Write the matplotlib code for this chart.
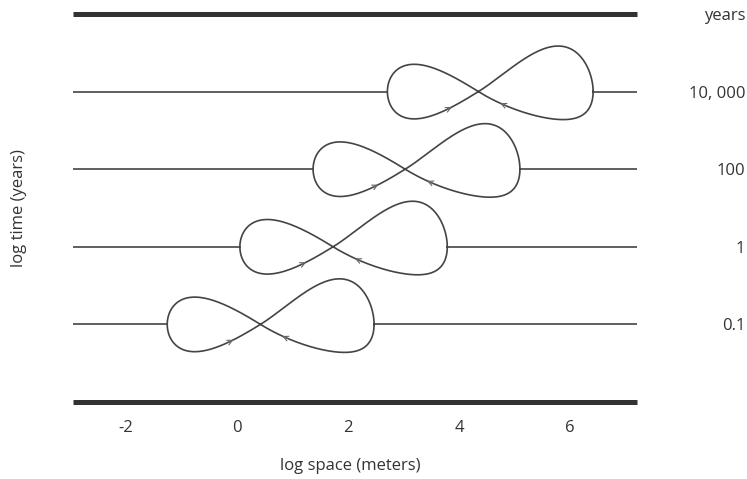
import numpy as np
import matplotlib
matplotlib.use("Agg")
import matplotlib.pyplot as plt

plt.rcParams["font.family"] = ["Open Sans", "DejaVu Sans"]

# time levels (right hand labels) and loop geometry in log-space units
level_labels = ["0.1", "1", "100", "10, 000"]
level_y = [0, 1, 2, 3]
loop_left = [-1.26, 0.05, 1.37, 2.71]
loop_cross = [0.42, 1.73, 3.03, 4.35]
loop_right = [2.47, 3.79, 5.10, 6.42]
# half heights of lobes (time units)
left_half = 0.35
right_up = 0.59
right_down = 0.36

x_ticks = [-2, 0, 2, 4, 6]
x_lim = (-2.96, 7.21)

line_col = "#444444"
text_col = "#333333"


def eight(xc, xl, xr, t):
    u = np.cos(t)
    v = np.sin(t) * np.cos(t)
    s = (1 + np.tanh(3 * u)) / 2
    L = xc - xl
    R = xr - xc
    x = xc + u * (L + (R - L) * s)
    hL = left_half * 2
    hR = (right_up + right_down)
    h = hL + (hR - hL) * s
    off = (right_up - right_down) / 2 * 27 / 4 * np.clip(u, 0, None) ** 2 * (1 - u)
    y = v * h + off
    return x, y


fig = plt.figure(figsize=(7.47, 4.79), dpi=100)
ax = fig.add_axes([73 / 747, 77 / 479, 564 / 747, 388 / 479])
ax.set_xlim(*x_lim)
ax.set_ylim(-1, 4)

t = np.linspace(0, 2 * np.pi, 600)
for yl, xl, xc, xr in zip(level_y, loop_left, loop_cross, loop_right):
    ax.plot([x_lim[0], xl], [yl, yl], color=line_col, lw=1.2)
    ax.plot([xr, x_lim[1]], [yl, yl], color=line_col, lw=1.2)
    x, y = eight(xc, xl, xr, t)
    ax.plot(x, y + yl, color=line_col, lw=1.2)
    # direction arrows on the lower branches
    for t0 in (np.arccos(-0.28), 2 * np.pi - np.arccos(0.2)):
        xa, ya = eight(xc, xl, xr, np.array([t0 + 0.05, t0]))
        ax.annotate("", xy=(xa[1], ya[1] + yl), xytext=(xa[0], ya[0] + yl),
                    arrowprops=dict(arrowstyle="->", color="#666666", lw=0.8,
                                    mutation_scale=9, shrinkA=0, shrinkB=0))

for side in ["left", "right"]:
    ax.spines[side].set_visible(False)
for side in ["top", "bottom"]:
    ax.spines[side].set_linewidth(3.6)
    ax.spines[side].set_color("#333333")
    ax.spines[side].set_capstyle("butt")

ax.set_xticks(x_ticks)
ax.set_xticklabels([str(v) for v in x_ticks])
ax.tick_params(axis="x", length=0, pad=13, labelsize=12, labelcolor=text_col)

ax.yaxis.tick_right()
ax.set_yticks(level_y + [4])
ax.set_yticklabels(level_labels + ["years"])
ax.tick_params(axis="y", length=0, pad=78, labelsize=12, labelcolor=text_col)
for lab in ax.get_yticklabels():
    lab.set_horizontalalignment("right")

ax.set_xlabel("log space (meters)", fontsize=12, color=text_col)
ax.xaxis.set_label_coords((350 - 73) / 564, -(466 - 402) / 388)
ax.set_ylabel("log time (years)", fontsize=12, color=text_col)
ax.yaxis.set_label_position("left")
ax.yaxis.set_label_coords(-(73 - 19) / 564, 0.5)
ax.xaxis.label.set_va("center")
ax.yaxis.label.set_va("center")

fig.savefig("out.png", dpi=100)
